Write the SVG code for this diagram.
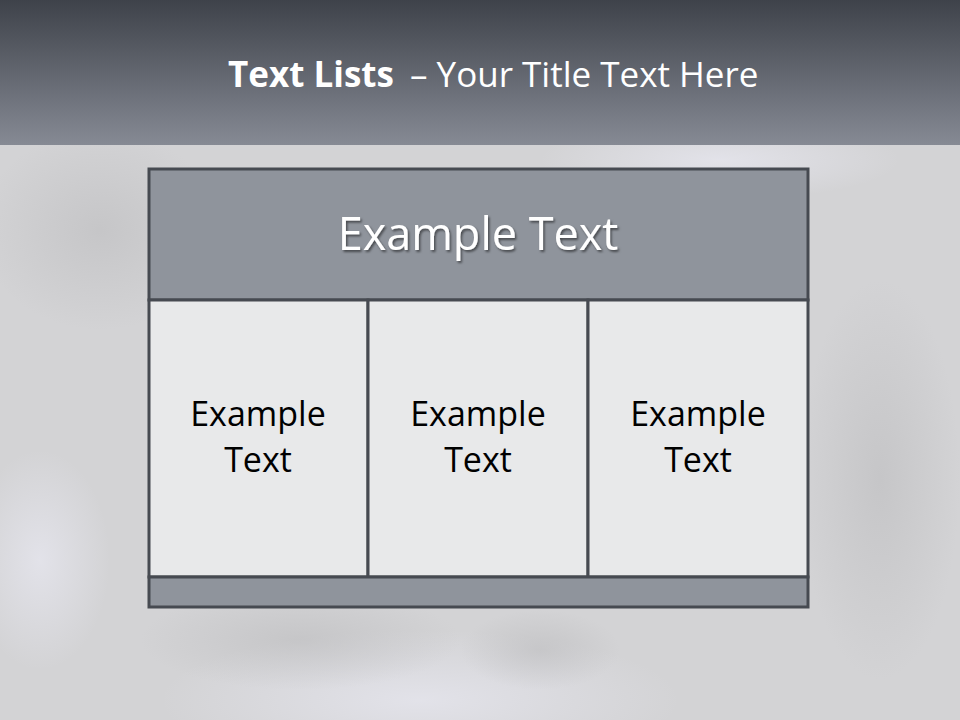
<svg xmlns="http://www.w3.org/2000/svg" width="960" height="720" viewBox="0 0 960 720">
<defs>
<linearGradient id="hdr" x1="0" y1="0" x2="0" y2="1">
<stop offset="0" stop-color="#3e424a"/>
<stop offset="1" stop-color="#868a94"/>
</linearGradient>
<radialGradient id="b1" cx="0.5" cy="0.5" r="0.5">
<stop offset="0" stop-color="#e6e6ee" stop-opacity="0.8"/>
<stop offset="1" stop-color="#e6e6ee" stop-opacity="0"/>
</radialGradient>
<radialGradient id="b2" cx="0.5" cy="0.5" r="0.5">
<stop offset="0" stop-color="#bdbdbf" stop-opacity="0.6"/>
<stop offset="1" stop-color="#bdbdbf" stop-opacity="0"/>
</radialGradient>
<filter id="sh" x="-10%" y="-10%" width="120%" height="130%">
<feDropShadow dx="1.5" dy="2" stdDeviation="1" flood-color="#000" flood-opacity="0.5"/>
</filter>
<style>
.cell{fill:#e8e9ea;stroke:#464a51;stroke-width:3}
.band{fill:#8f949c;stroke:#464a51;stroke-width:3}
.t{font-family:"Open Sans","Noto Sans",sans-serif;text-anchor:middle}
.ct{font-size:34px;fill:#000}
.ti{font-family:"Open Sans","Noto Sans",sans-serif;font-size:35px;fill:#fff}
</style>
</defs>
<rect x="0" y="0" width="960" height="720" fill="#d3d3d5"/>
<ellipse cx="420" cy="700" rx="260" ry="70" fill="url(#b1)"/>
<ellipse cx="720" cy="160" rx="180" ry="40" fill="url(#b1)"/>
<ellipse cx="100" cy="230" rx="120" ry="100" fill="url(#b2)"/>
<ellipse cx="300" cy="640" rx="160" ry="50" fill="url(#b2)"/>
<ellipse cx="540" cy="650" rx="80" ry="40" fill="url(#b2)"/>
<ellipse cx="880" cy="480" rx="80" ry="200" fill="url(#b2)"/>
<ellipse cx="40" cy="560" rx="70" ry="110" fill="url(#b1)"/>
<rect x="0" y="0" width="960" height="145" fill="url(#hdr)"/>
<text x="228" y="87" class="ti" font-weight="bold">Text Lists</text>
<text x="410" y="87" class="ti">– Your Title Text Here</text>
<g id="header">
<rect x="149" y="169" width="659" height="131" class="band"/>
<text x="478" y="250" class="t" font-size="45" fill="#fff" filter="url(#sh)">Example Text</text>
</g>
<g id="cell1">
<rect x="149" y="300" width="219" height="277" class="cell"/>
<text class="t ct" x="258" y="426">Example</text>
<text class="t ct" x="258" y="472">Text</text>
</g>
<g id="cell2">
<rect x="368" y="300" width="220" height="277" class="cell"/>
<text class="t ct" x="478" y="426">Example</text>
<text class="t ct" x="478" y="472">Text</text>
</g>
<g id="cell3">
<rect x="588" y="300" width="220" height="277" class="cell"/>
<text class="t ct" x="698" y="426">Example</text>
<text class="t ct" x="698" y="472">Text</text>
</g>
<g id="footer">
<rect x="149" y="577" width="659" height="30" class="band"/>
</g>
<g id="connectors"/>
</svg>
